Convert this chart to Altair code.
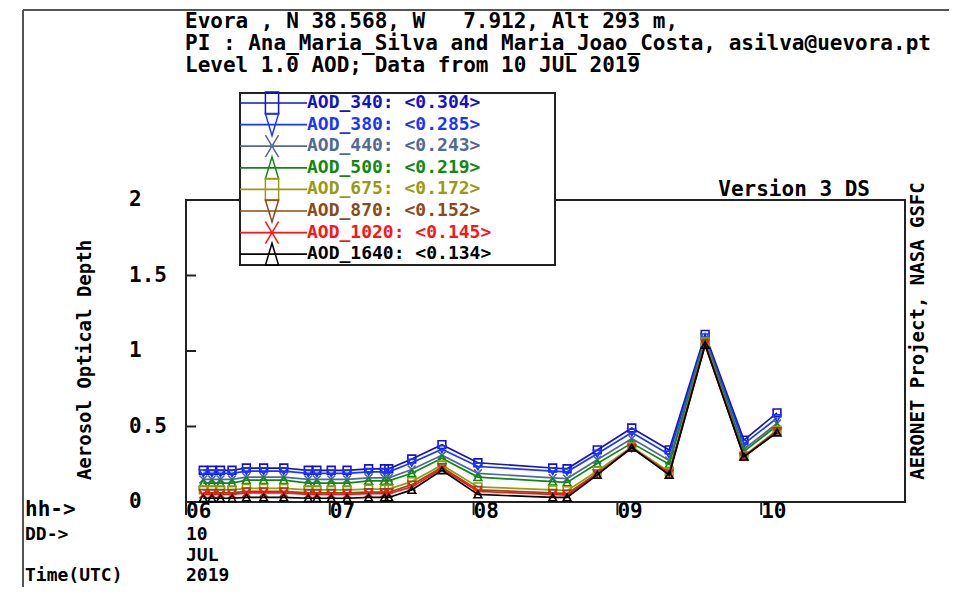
import altair as alt
import pandas as pd

# ---------------- data ----------------
hours = [6.12, 6.18, 6.24, 6.32, 6.42, 6.54, 6.68, 6.85, 6.91, 7.01, 7.12, 7.27, 7.38, 7.41,
         7.57, 7.78, 8.03, 8.55, 8.65, 8.86, 9.10, 9.36, 9.61, 9.88, 10.11]

aod_340 = [0.21, 0.21, 0.21, 0.21, 0.225, 0.225, 0.225, 0.21, 0.21, 0.21, 0.21, 0.22, 0.22, 0.22,
           0.285, 0.38, 0.26, 0.225, 0.22, 0.345, 0.49, 0.345, 1.11, 0.41, 0.59]
aod_380 = [0.19, 0.19, 0.19, 0.19, 0.205, 0.205, 0.205, 0.19, 0.19, 0.19, 0.19, 0.20, 0.20, 0.20,
           0.26, 0.35, 0.235, 0.205, 0.20, 0.32, 0.46, 0.315, 1.09, 0.385, 0.555]
aod_440 = [0.15, 0.15, 0.15, 0.15, 0.165, 0.165, 0.165, 0.15, 0.15, 0.15, 0.15, 0.16, 0.16, 0.16,
           0.215, 0.31, 0.19, 0.16, 0.155, 0.28, 0.42, 0.275, 1.08, 0.35, 0.52]
aod_500 = [0.125, 0.125, 0.125, 0.125, 0.145, 0.145, 0.145, 0.125, 0.125, 0.125, 0.125, 0.14, 0.14, 0.14,
           0.19, 0.29, 0.165, 0.135, 0.13, 0.255, 0.39, 0.25, 1.07, 0.335, 0.505]
aod_675 = [0.08, 0.08, 0.08, 0.08, 0.09, 0.09, 0.09, 0.08, 0.08, 0.08, 0.08, 0.085, 0.085, 0.085,
           0.135, 0.245, 0.10, 0.08, 0.075, 0.205, 0.365, 0.20, 1.06, 0.305, 0.475]
aod_870 = [0.06, 0.06, 0.06, 0.06, 0.07, 0.07, 0.07, 0.06, 0.06, 0.06, 0.06, 0.065, 0.065, 0.065,
           0.115, 0.23, 0.08, 0.06, 0.055, 0.19, 0.355, 0.19, 1.05, 0.30, 0.47]
aod_1020 = [0.05, 0.05, 0.05, 0.05, 0.06, 0.06, 0.06, 0.05, 0.05, 0.05, 0.05, 0.055, 0.055, 0.055,
            0.10, 0.22, 0.07, 0.05, 0.045, 0.185, 0.36, 0.185, 1.04, 0.30, 0.465]
aod_1640 = [0.025, 0.025, 0.025, 0.025, 0.03, 0.03, 0.03, 0.025, 0.025, 0.025, 0.025, 0.03, 0.03, 0.03,
            0.08, 0.21, 0.05, 0.03, 0.03, 0.18, 0.36, 0.18, 1.04, 0.30, 0.46]

bands = ["340", "380", "440", "500", "675", "870", "1020", "1640"]
means = [0.304, 0.285, 0.243, 0.219, 0.172, 0.152, 0.145, 0.134]
series = [aod_340, aod_380, aod_440, aod_500, aod_675, aod_870, aod_1020, aod_1640]

x_ticks = [6, 7, 8, 9, 10]
x_tick_labels = ["06", "07", "08", "09", "10"]
y_ticks = [0, 0.5, 1, 1.5, 2]
y_tick_labels = ["0", "0.5", "1", "1.5", "2"]

NB = "\u00a0"
title_lines = [
    "Evora , N 38.568, W" + NB * 3 + "7.912, Alt 293 m,",
    "PI : Ana_Maria_Silva and Maria_Joao_Costa, asilva@uevora.pt",
    "Level 1.0 AOD; Data from 10 JUL 2019",
]

# ---------------- styles ----------------
colors = ["#1212CC", "#1a35FF", "#4F6A98", "#118811", "#9A9A12", "#8B4A1A", "#FF1414", "#000000"]
plot_shapes = ["square", "triangle-down", "M-1,-1L1,1M-1,1L1,-1", "triangle-up",
               "square", "triangle-down", "M-1,-1L1,1M-1,1L1,-1", "triangle-up"]
leg_rect = "M-0.6,-1L0.6,-1L0.6,1L-0.6,1Z"
leg_down = "M-0.6,-1L0.6,-1L0,1Z"
leg_x = "M-0.6,-1L0.6,1M-0.6,1L0.6,-1"
leg_up = "M-0.6,1L0.6,1L0,-1Z"
legend_shapes = [leg_rect, leg_down, leg_x, leg_up, leg_rect, leg_down, leg_x, leg_up]

FONT = "DejaVu Sans Mono"
FS = 21
FS_SMALL = 18
FS_LEG = 18
W, H = 719, 302

names = ["AOD_" + b for b in bands]

rows = []
for n, vals in zip(names, series):
    for h, v in zip(hours, vals):
        rows.append({"band": n, "hour": h, "aod": v})
df = pd.DataFrame(rows)

xscale = alt.Scale(domain=[6, 11], nice=False, zero=False)
yscale = alt.Scale(domain=[0, 2], nice=False, zero=True)
cscale = alt.Scale(domain=names, range=colors)

layers = []

# outer frame
frame = pd.DataFrame({"k": [0]})
layers.append(alt.Chart(frame).mark_rule(color="#555", strokeWidth=2).encode(
    x=alt.value(-163), y=alt.value(-190), y2=alt.value(H + 100)))
layers.append(alt.Chart(frame).mark_rule(color="#555", strokeWidth=2).encode(
    x=alt.value(-163), x2=alt.value(W + 80), y=alt.value(-190)))

# x ticks and labels (through the x scale)
xt = pd.DataFrame({"t": x_ticks, "lab": x_tick_labels})
layers.append(alt.Chart(xt).mark_rule(color="#222", strokeWidth=2).encode(
    x=alt.X("t:Q", scale=xscale, axis=None), y=alt.value(H), y2=alt.value(H + 13)))
layers.append(alt.Chart(xt).mark_text(align="left", baseline="middle", font=FONT, fontSize=FS,
                                      fontWeight="bold", color="black").encode(
    x=alt.X("t:Q", scale=xscale, axis=None), y=alt.value(H + 10), text="lab:N"))

# y ticks and labels (through the y scale)
yt = pd.DataFrame({"v": y_ticks, "lab": y_tick_labels})
layers.append(alt.Chart(yt).transform_filter("datum.v > 0 && datum.v < 2").mark_rule(
    color="#222", strokeWidth=2).encode(
    y=alt.Y("v:Q", scale=yscale, axis=None), x=alt.value(0), x2=alt.value(10)))
layers.append(alt.Chart(yt).mark_text(align="left", baseline="middle", font=FONT, fontSize=FS,
                                      fontWeight="bold", color="black").encode(
    y=alt.Y("v:Q", scale=yscale, axis=None), x=alt.value(-57), text="lab:N"))

# data series
base = alt.Chart(df)
for i, n in enumerate(names):
    sub = base.transform_filter(alt.datum.band == n)
    xe = alt.X("hour:Q", scale=xscale, axis=None)
    ye = alt.Y("aod:Q", scale=yscale, axis=None)
    ce = alt.Color("band:N", scale=cscale, legend=None)
    layers.append(sub.mark_line(strokeWidth=1.7).encode(x=xe, y=ye, color=ce))
    layers.append(sub.mark_point(shape=plot_shapes[i], size=60, strokeWidth=1.6, filled=False,
                                 opacity=1).encode(x=xe, y=ye, color=ce))

# legend box
layers.append(alt.Chart(frame).mark_rect(fill="white", stroke="#222", strokeWidth=2).encode(
    x=alt.value(54), x2=alt.value(369), y=alt.value(-107), y2=alt.value(65)))

leg = pd.DataFrame({
    "band": names,
    "idx": list(range(len(names))),
    "label": ["AOD_%s: <%.3f>" % (b, m) for b, m in zip(bands, means)],
})
legbase = alt.Chart(leg).transform_calculate(ly="-97 + datum.idx * 21.6")
layers.append(legbase.mark_rule(strokeWidth=1.7).encode(
    x=alt.value(54), x2=alt.value(121), y=alt.Y("ly:Q", scale=None, axis=None),
    color=alt.Color("band:N", scale=cscale, legend=None)))
layers.append(legbase.mark_point(size=484, strokeWidth=1.5, filled=False, opacity=1).encode(
    x=alt.value(86), y=alt.Y("ly:Q", scale=None, axis=None),
    color=alt.Color("band:N", scale=cscale, legend=None),
    shape=alt.Shape("band:N", scale=alt.Scale(domain=names, range=legend_shapes), legend=None)))
layers.append(legbase.mark_text(align="left", baseline="middle", font=FONT, fontSize=FS_LEG,
                                fontWeight="bold").encode(
    x=alt.value(121), y=alt.Y("ly:Q", scale=None, axis=None), text="label:N",
    color=alt.Color("band:N", scale=cscale, legend=None)))

# header text
tl = pd.DataFrame({"t": title_lines, "i": [0, 1, 2]})
layers.append(alt.Chart(tl).transform_calculate(ty="-178 + datum.i * 22").mark_text(
    align="left", baseline="middle", font=FONT, fontSize=FS, fontWeight="bold", color="black").encode(
    x=alt.value(-1), y=alt.Y("ty:Q", scale=None, axis=None), text="t:N"))


def label(txt, x, y, align="left", size=FS, angle=0):
    d = pd.DataFrame({"t": [txt]})
    kw = dict(align=align, baseline="middle", font=FONT, fontSize=size, fontWeight="bold",
              color="black")
    if angle:
        kw["angle"] = angle
    return alt.Chart(d).mark_text(**kw).encode(x=alt.value(x), y=alt.value(y), text="t:N")


layers.append(label("Aerosol Optical Depth", -101, 160, align="center", size=19, angle=270))
layers.append(label("Version 3 DS", 684, -10, align="right"))
layers.append(label("AERONET Project, NASA GSFC", 732, 131, align="center", size=19, angle=270))
layers.append(label("hh->", -161, 310))
layers.append(label("DD->", -161, 335, size=FS_SMALL))
layers.append(label("Time(UTC)", -161, 376, size=FS_SMALL))
layers.append(label("10", 0, 335, size=FS_SMALL))
layers.append(label("JUL", 0, 356, size=FS_SMALL))
layers.append(label("2019", 0, 376, size=FS_SMALL))

chart = alt.layer(*layers).resolve_scale(shape="independent").properties(
    width=W, height=H,
    autosize=alt.AutoSizeParams(type="none"),
    padding={"left": 178, "top": 192, "right": 44, "bottom": 85},
).configure_view(stroke="#222", strokeWidth=2)

chart.save("out.html", embed_options={"renderer": "svg", "actions": False})
